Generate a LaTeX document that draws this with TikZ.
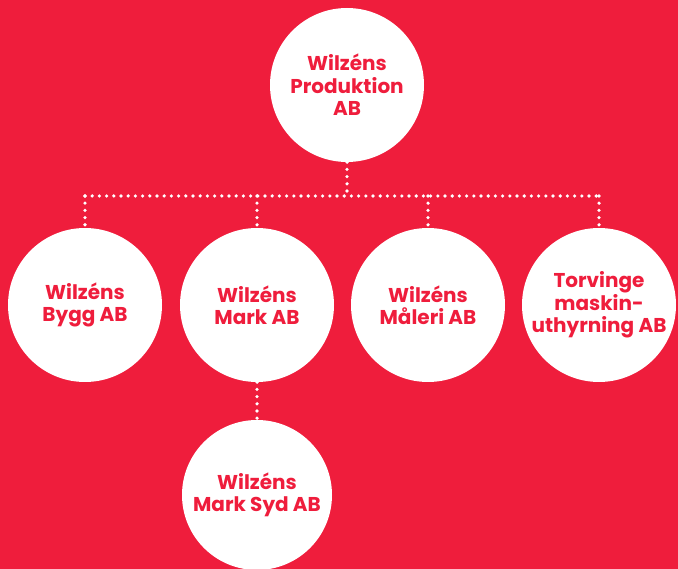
\documentclass[tikz,border=0pt]{standalone}
\usepackage{fontspec}
\setmainfont{Poppins}[BoldFont={* Bold}]
\usetikzlibrary{positioning, calc}
\definecolor{WilRed}{HTML}{EF1D3C}

\begin{document}
\begin{tikzpicture}[
    x=1pt, y=-1pt,
    every node/.style={font=\bfseries\fontsize{20}{22.5}\selectfont},
    company/.style={circle, fill=white, draw=none, minimum size=154pt, inner sep=0pt,
        align=center, text=WilRed},
    dots/.style={white, line width=3.6pt, line cap=round, dash pattern=on 0pt off 7.2pt},
]

% === Background ===
\fill[WilRed] (0, 0) rectangle (678, 569);
\useasboundingbox (0, 0) rectangle (678, 569);

% =============================================
% PARENT
% =============================================
\node[company] (prod) at (347, 85) {Wilzéns\\Produktion\\AB};

% =============================================
% SUBSIDIARIES
% =============================================
\node[company] (bygg) at (85, 305) {Wilzéns\\Bygg AB};
\node[company] (mark) at (257, 305) {Wilzéns\\Mark AB};
\node[company] (maleri) at (428, 305) {Wilzéns\\Måleri AB};
\node[company] (torv) at (599, 305) {Torvinge\\maskin-\\uthyrning AB};

\node[company, minimum size=150pt] (syd) at (257, 495) {Wilzéns\\Mark Syd AB};

% =============================================
% DOTTED CONNECTORS
% =============================================
\coordinate (bus) at (347, 196);

\draw[dots] (prod.south) -- (prod.south |- bus);
\draw[dots] (bygg.north |- bus) -- (torv.north |- bus);

\draw[dots] (bygg.north |- bus) -- (bygg.north);
\draw[dots] (mark.north |- bus) -- (mark.north);
\draw[dots] (maleri.north |- bus) -- (maleri.north);
\draw[dots] (torv.north |- bus) -- (torv.north);

\draw[dots] (mark.south) -- (syd.north);

\end{tikzpicture}
\end{document}
